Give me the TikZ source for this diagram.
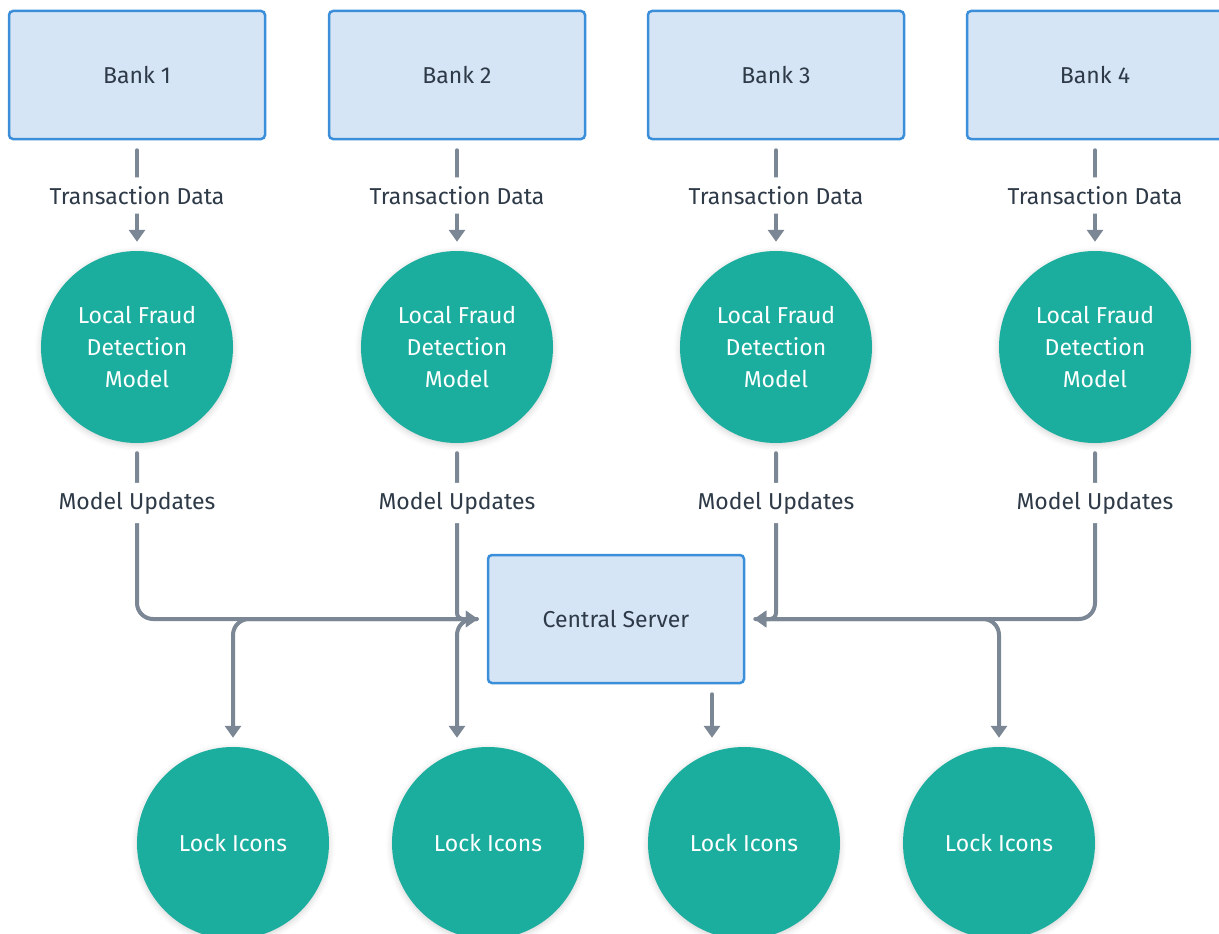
\documentclass[tikz,border=0pt]{standalone}
\usepackage{fontspec}
\setmainfont{Fira Sans}
\usetikzlibrary{arrows.meta,shadows.blur}

\definecolor{bankfill}{HTML}{D5E5F5}
\definecolor{bankline}{HTML}{3B8EDA}
\definecolor{modelteal}{HTML}{1BAE9E}
\definecolor{flowgray}{HTML}{7B8794}
\definecolor{inkdark}{HTML}{2E3A47}

\tikzset{
  bank/.style={draw=bankline, line width=2.5pt, fill=bankfill, rounded corners=4pt,
    minimum width=256pt, minimum height=128pt, text=inkdark,
    font=\fontsize{23}{27}\selectfont},
  model/.style={circle, fill=modelteal, minimum size=192pt, inner sep=0pt,
    text=white, align=center, font=\fontsize{23}{32}\selectfont,
    blur shadow={shadow xshift=0pt, shadow yshift=-2pt, shadow opacity=18, shadow blur radius=6pt}},
  flow/.style={draw=flowgray, line width=4pt, line cap=round, rounded corners=16pt,
    -{Triangle[length=12pt,width=16pt]}, shorten >=9pt, shorten <=10pt},
  flowlabel/.style={fill=white, text=inkdark, inner xsep=2pt, inner ysep=9pt,
    font=\fontsize{23}{27}\selectfont}
}

\begin{document}
\begin{tikzpicture}[x=1pt,y=-1pt]
    \useasboundingbox (0,0) rectangle (1219,934);

    \node[bank] (Bank1) at (137,75){Bank 1};
    \node[bank] (Bank2) at (457,75){Bank 2};
    \node[bank] (Bank3) at (776,75){Bank 3};
    \node[bank] (Bank4) at (1095,75){Bank 4};

    \node[model] (Model1) at (137,347){Local Fraud\\Detection\\Model};
    \node[model] (Model2) at (457,347){Local Fraud\\Detection\\Model};
    \node[model] (Model3) at (776,347){Local Fraud\\Detection\\Model};
    \node[model] (Model4) at (1095,347){Local Fraud\\Detection\\Model};

    \node[bank] (Server) at (616,619){Central Server};

    \node[model] (Lock1) at (233,843){Lock Icons};
    \node[model] (Lock2) at (488,843){Lock Icons};
    \node[model] (Lock3) at (744,843){Lock Icons};
    \node[model] (Lock4) at (999,843){Lock Icons};

    \draw[flow] (Bank1) -- node[flowlabel]{Transaction Data} (Model1);
    \draw[flow] (Bank2) -- node[flowlabel]{Transaction Data} (Model2);
    \draw[flow] (Bank3) -- node[flowlabel]{Transaction Data} (Model3);
    \draw[flow] (Bank4) -- node[flowlabel]{Transaction Data} (Model4);

    \draw[flow] (Server) -| (Lock1);
    \draw[flow] (Server) -| ([xshift=-31pt]Lock2.north);
    \draw[flow] ([xshift=96pt]Server.south) -- ([xshift=-32pt]Lock3.north);
    \draw[flow] (Server) -| (Lock4);

    \draw[flow] (Model1) |- node[pos=0.17,flowlabel]{Model Updates} (Server);
    \draw[flow,rounded corners=6pt] (Model2) |- node[pos=0.17,flowlabel]{Model Updates} (Server);
    \draw[flow,rounded corners=6pt] (Model3) |- node[pos=0.17,flowlabel]{Model Updates} (Server);
    \draw[flow] (Model4) |- node[pos=0.17,flowlabel]{Model Updates} (Server);
  \end{tikzpicture}
\end{document}
